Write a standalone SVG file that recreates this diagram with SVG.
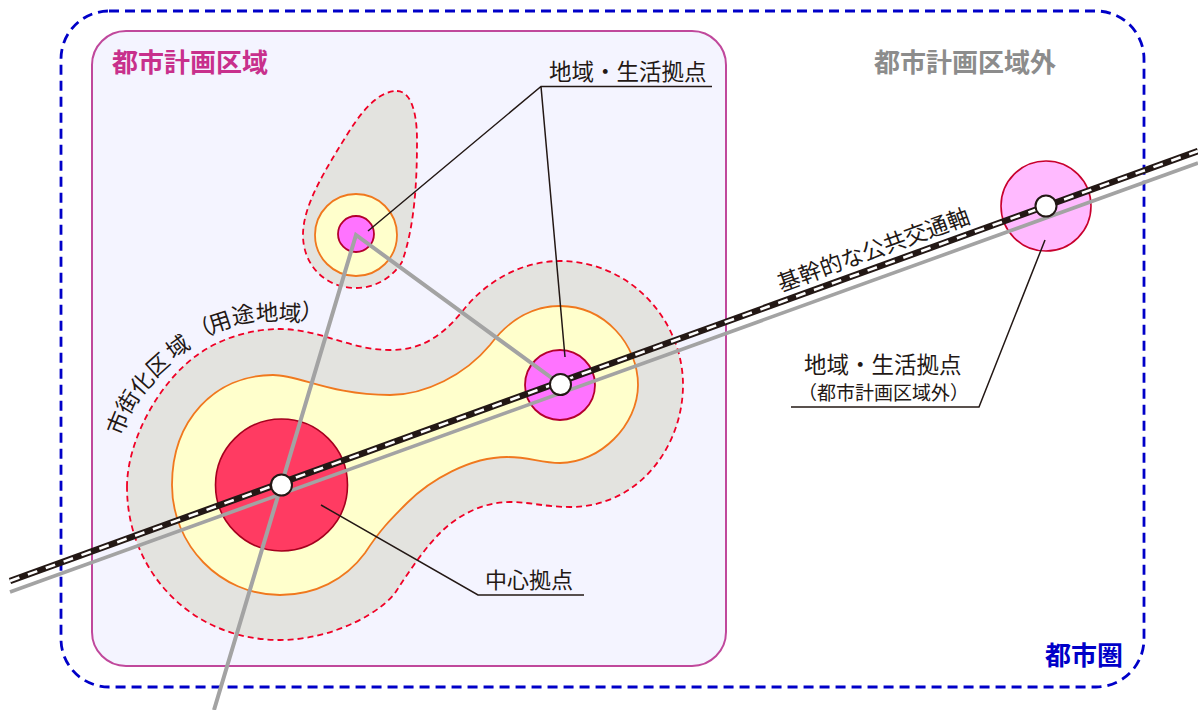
<svg xmlns="http://www.w3.org/2000/svg" width="1198" height="710" viewBox="0 0 1198 710">
<style>
text{font-family:"Noto Sans CJK JP","Noto Sans CJK SC",sans-serif;fill:#231815}
.b{font-weight:700;font-size:26px}
.l{font-size:22.500px}
.c{font-size:22.500px;text-anchor:middle}
.lead{fill:none;stroke:#231815;stroke-width:1.500}
.gl{fill:none;stroke:#a3a3a3;stroke-width:4}
.area{fill:#e3e3df;stroke:#f00026;stroke-width:1.800;stroke-dasharray:6 4}
.yel{fill:#ffffcc;stroke:#f0781e;stroke-width:1.800}
.st{fill:#fff;stroke:#231815;stroke-width:2}
</style>
<rect width="1198" height="710" fill="#fff"/>
<g id="toshiken"><rect x="61" y="11" width="1083" height="676" rx="48" fill="#fff" stroke="#0000c8" stroke-width="2.800" stroke-dasharray="10 6"/></g>
<g id="toshikeikaku"><rect x="92" y="31" width="634" height="635" rx="34" fill="#f4f4ff" stroke="#c0489c" stroke-width="2"/></g>
<g id="shigaika-main"><path class="area" d="M127 487C127 440 160 380 200 353C225 336 255 329 280 329C320 329 350 350 390 350C425 350 445 333 465 308C490 278 525 261 560 261C630 261 683 320 683 385C683 445 640 507 570 507C545 507 530 502 510 502C480 502 455 518 440 533C425 548 410 570 397 590C385 610 335 640 280 640C190 640 127 570 127 487Z"/>
<path class="yel" d="M172 485C172 420 215 375 273 375C300 375 330 395 390 395C425 395 465 375 490 345C510 318 535 306 560 306C605 306 638 345 638 385C638 425 600 463 560 463C540 463 530 457 507 457C470 457 430 480 407 503C390 520 380 530 365 553C345 580 315 595 280 595C220 595 172 545 172 485Z"/></g>
<g id="shigaika-north"><path class="area" d="M397 91C410 91 417 110 417 140C417 180 415 225 402 262C392 278 375 288 356 288C325 288 303 265 303 235C303 205 325 170 350 130C368 102 383 91 397 91Z"/>
<circle class="yel" cx="356" cy="235" r="41"/></g>
<g id="kyoten-center"><circle cx="281.500" cy="485" r="66" fill="#ff3b62" stroke="#a5001e" stroke-width="1.600"/></g>
<g id="kyoten-east"><circle cx="560" cy="385" r="35" fill="#ff73ff" stroke="#b4002d" stroke-width="1.800"/></g>
<g id="kyoten-north"><circle cx="356" cy="234" r="18" fill="#ff73ff" stroke="#b4002d" stroke-width="1.800"/></g>
<g id="kyoten-outer"><circle cx="1046" cy="206" r="45" fill="#ffbaff" stroke="#c8002d" stroke-width="1.600"/></g>
<g id="connectors">
<path class="gl" d="M214 710L356 235L560 384"/>
<path class="gl" d="M10 592L1198 163" style="stroke-width:3.600"/>
<path d="M10 581L1198 151" fill="none" stroke="#231815" stroke-width="6.500"/>
<path d="M10 581L1198 151" fill="none" stroke="#fff" stroke-width="2.600" stroke-dasharray="10 9"/>
<path class="lead" d="M368 231L541 86.500L712 86.500M541 86.500L565 357"/>
<path class="lead" d="M321 505L478 595L584 595"/>
<path class="lead" d="M1045 240L979 407L791 407"/>
</g>
<g id="stations"><circle class="st" cx="281.500" cy="485" r="10.500"/><circle class="st" cx="560.500" cy="384.500" r="10.500"/><circle class="st" cx="1046" cy="206" r="10.500"/></g>
<g id="labels">
<text class="b" x="112" y="72" style="fill:#c8308c">都市計画区域</text>
<text class="b" x="874" y="72" style="fill:#8c8c8c">都市計画区域外</text>
<text class="b" x="1045" y="665" style="fill:#0000c8">都市圏</text>
<text class="l" x="549" y="80">地域・生活拠点</text>
<text x="485" y="588" font-size="22">中心拠点</text>
<text class="l" x="804" y="373">地域・生活拠点</text>
<text x="798" y="400" font-size="19">（都市計画区域外）</text>
<text class="l" transform="translate(781 292) rotate(-20)">基幹的な公共交通軸</text>
<g class="arc">
<text class="c" y="8" transform="translate(118 423) rotate(-68)">市</text>
<text class="c" y="8" transform="translate(128 402) rotate(-58)">街</text>
<text class="c" y="8" transform="translate(142 383) rotate(-48)">化</text>
<text class="c" y="8" transform="translate(158 365) rotate(-42)">区</text>
<text class="c" y="8" transform="translate(178 347) rotate(-36)">域</text>
<text class="c" y="8" transform="translate(201 330) rotate(-24)">（</text>
<text class="c" y="8" transform="translate(220 322) rotate(-18)">用</text>
<text class="c" y="8" transform="translate(243 315) rotate(-10)">途</text>
<text class="c" y="8" transform="translate(267 313) rotate(-3)">地</text>
<text class="c" y="8" transform="translate(290 313) rotate(3)">域</text>
<text class="c" y="8" transform="translate(312 313) rotate(8)">）</text>
</g>
</g>
</svg>
